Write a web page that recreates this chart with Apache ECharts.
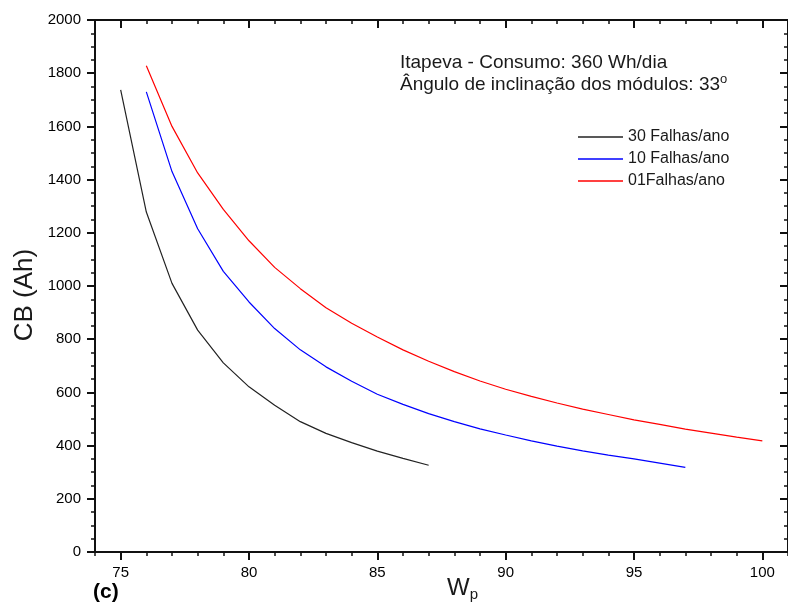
<!DOCTYPE html>
<html>
<head>
<meta charset="utf-8">
<script src="https://cdn.jsdelivr.net/npm/echarts@6/dist/echarts.min.js"></script>
<style>
  html, body { margin: 0; padding: 0; background: #fff; }
  #chart { width: 788px; height: 612px; }
</style>
</head>
<body>
<div id="chart"></div>
<script>
// Battery capacity (Ah) versus PV array power (Wp) for three failure rates
var wp30 = [75, 76, 77, 78, 79, 80, 81, 82, 83, 84, 85, 86, 87];
var cb30 = [1737, 1278, 1010, 834, 711, 621, 552, 490, 446, 411, 379, 352, 326];

var wp10 = [76, 77, 78, 79, 80, 81, 82, 83, 84, 85, 86, 87, 88, 89, 90, 91, 92, 93, 94, 95, 96, 97];
var cb10 = [1730, 1430, 1215, 1055, 940, 840, 760, 696, 642, 593, 555, 520, 490, 463, 440, 418, 398, 380, 364, 350, 334, 318];

var wp01 = [76, 77, 78, 79, 80, 81, 82, 83, 84, 85, 86, 87, 88, 89, 90, 91, 92, 93, 94, 95, 96, 97, 98, 99, 100];
var cb01 = [1828, 1600, 1425, 1288, 1170, 1070, 990, 918, 860, 808, 760, 717, 678, 643, 612, 585, 560, 537, 517, 497, 480, 462, 447, 432, 418];

var seriesNames = ['30 Falhas/ano', '10 Falhas/ano', '01Falhas/ano'];
var xTickLabels = [75, 80, 85, 90, 95, 100];
var yTickLabels = [0, 200, 400, 600, 800, 1000, 1200, 1400, 1600, 1800, 2000];

function pairs(xs, ys) {
  return xs.map(function (x, i) { return [x, ys[i]]; });
}

var chart = echarts.init(document.getElementById('chart'), null, { renderer: 'canvas' });
var axisColor = '#111';
var font = 'Arial, "Liberation Sans", sans-serif';

function xAxisBase(pos) {
  return {
    type: 'value', position: pos, min: 74, max: 101,
    axisLine: { show: true, onZero: false, lineStyle: { color: axisColor, width: 2 } },
    splitLine: { show: false }
  };
}

var xAxes = [
  Object.assign(xAxisBase('bottom'), {
    axisTick: { show: true, inside: false, length: 8, customValues: xTickLabels, lineStyle: { color: axisColor, width: 2 } },
    axisLabel: { show: true, customValues: xTickLabels, fontSize: 15, color: '#000', fontFamily: font, margin: 13 }
  }),
  Object.assign(xAxisBase('bottom'), {
    interval: 1,
    axisLine: { show: false, onZero: false },
    axisTick: { show: true, inside: false, length: 4, lineStyle: { color: axisColor, width: 1.5 } },
    axisLabel: { show: false }
  }),
  Object.assign(xAxisBase('top'), {
    axisTick: { show: true, inside: true, length: 8, customValues: xTickLabels, lineStyle: { color: axisColor, width: 2 } },
    axisLabel: { show: false }
  }),
  Object.assign(xAxisBase('top'), {
    interval: 1,
    axisLine: { show: false, onZero: false },
    axisTick: { show: true, inside: true, length: 4, lineStyle: { color: axisColor, width: 1.5 } },
    axisLabel: { show: false }
  })
];

function yAxisBase(pos, inside, labels) {
  return {
    type: 'value', position: pos, min: 0, max: 2000, interval: 200,
    axisLine: { show: true, onZero: false, lineStyle: { color: axisColor, width: 2 } },
    axisTick: { show: true, inside: inside, length: 8, lineStyle: { color: axisColor, width: 2 } },
    minorTick: { show: true, splitNumber: 4, length: 4, lineStyle: { color: axisColor, width: 1.5 } },
    axisLabel: labels ? {
      show: true, fontSize: 15, color: '#000', fontFamily: font, margin: 14,
      formatter: function (v) { return yTickLabels.indexOf(v) >= 0 ? String(v) : ''; }
    } : { show: false },
    splitLine: { show: false }
  };
}

var colors = ['#222222', '#0000ff', '#ff0000'];
var datasets = [pairs(wp30, cb30), pairs(wp10, cb10), pairs(wp01, cb01)];

var option = {
  animation: false,
  backgroundColor: '#ffffff',
  grid: { left: 95, top: 20, width: 696, height: 532, containLabel: false },
  xAxis: xAxes,
  yAxis: [yAxisBase('left', false, true), yAxisBase('right', true, false)],
  legend: {
    orient: 'vertical', left: 578, top: 128, padding: 0,
    icon: 'rect', itemWidth: 45, itemHeight: 1.3, itemGap: 4,
    textStyle: { fontSize: 16, color: '#1a1a1a', fontFamily: font, lineHeight: 18 },
    data: seriesNames
  },
  series: seriesNames.map(function (name, i) {
    return {
      name: name, type: 'line', xAxisIndex: 0, yAxisIndex: 0,
      data: datasets[i], symbol: 'none', smooth: false,
      lineStyle: { color: colors[i], width: 1.2 },
      itemStyle: { color: colors[i] }
    };
  }),
  graphic: [
    {
      type: 'text', left: 400, top: 53,
      style: { text: 'Itapeva - Consumo: 360 Wh/dia', font: '19px ' + font, fill: '#1a1a1a' }
    },
    {
      type: 'text', left: 400, top: 73,
      style: {
        text: '{a|Ângulo de inclinação dos módulos: 33}{s|o}',
        rich: {
          a: { font: '19px ' + font, fill: '#1a1a1a' },
          s: { font: '13px ' + font, fill: '#1a1a1a', verticalAlign: 'top', padding: [0, 0, 10, 0] }
        }
      }
    },
    {
      type: 'text', x: 25, y: 295, rotation: Math.PI / 2,
      style: { text: 'CB (Ah)', font: '26px ' + font, fill: '#1a1a1a', align: 'center', verticalAlign: 'middle' }
    },
    {
      type: 'text', left: 447, top: 576,
      style: {
        text: '{w|W}{p|p}',
        rich: {
          w: { font: '24px ' + font, fill: '#1a1a1a' },
          p: { font: '15px ' + font, fill: '#1a1a1a', padding: [14, 0, 0, 0] }
        }
      }
    },
    {
      type: 'text', left: 93, top: 582,
      style: { text: '(c)', font: 'bold 21px ' + font, fill: '#000' }
    }
  ]
};

chart.setOption(option);
</script>
</body>
</html>
